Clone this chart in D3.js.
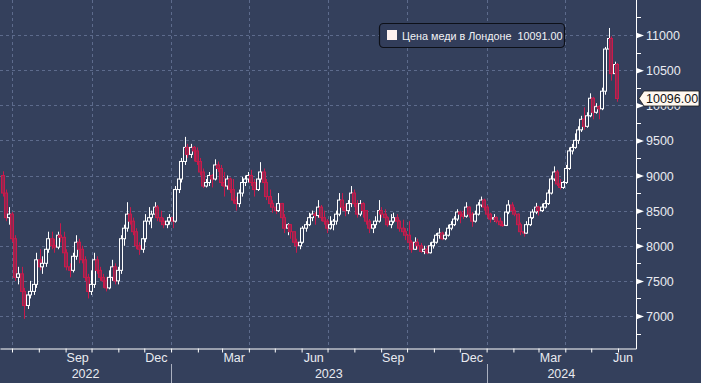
<!DOCTYPE html>
<html><head><meta charset="utf-8">
<script src="https://cdn.jsdelivr.net/npm/d3@7"></script>
<style>html,body{margin:0;padding:0;background:#34405c;overflow:hidden}svg{display:block}text{font-family:"Liberation Sans",Arial,sans-serif}</style>
</head><body><svg id="c" width="701" height="383"></svg>
<script>
// ---- data: two candles per week (Mon-Wed session, Thu-Fri session); weeks listed by their Wednesday ----
const weeks=["2022-06-22","2022-06-29","2022-07-06","2022-07-13","2022-07-20","2022-07-27","2022-08-03","2022-08-10","2022-08-17","2022-08-24","2022-08-31","2022-09-07","2022-09-14","2022-09-21","2022-09-28","2022-10-05","2022-10-12","2022-10-19","2022-10-26","2022-11-02","2022-11-09","2022-11-16","2022-11-23","2022-11-30","2022-12-07","2022-12-14","2022-12-21","2022-12-28",
"2023-01-04","2023-01-11","2023-01-18","2023-01-25","2023-02-01","2023-02-08","2023-02-15","2023-02-22","2023-03-01","2023-03-08","2023-03-15","2023-03-22","2023-03-29","2023-04-05","2023-04-12","2023-04-19","2023-04-26","2023-05-03","2023-05-10","2023-05-17","2023-05-24","2023-05-31","2023-06-07","2023-06-14","2023-06-21","2023-06-28","2023-07-05","2023-07-12","2023-07-19","2023-07-26","2023-08-02","2023-08-09","2023-08-16","2023-08-23","2023-08-30","2023-09-06","2023-09-13","2023-09-20","2023-09-27","2023-10-04","2023-10-11","2023-10-18","2023-10-25","2023-11-01","2023-11-08","2023-11-15","2023-11-22","2023-11-29","2023-12-06","2023-12-13","2023-12-20","2023-12-27",
"2024-01-03","2024-01-10","2024-01-17","2024-01-24","2024-01-31","2024-02-07","2024-02-14","2024-02-21","2024-02-28","2024-03-06","2024-03-13","2024-03-20","2024-03-27","2024-04-03","2024-04-10","2024-04-17","2024-04-24","2024-05-01","2024-05-08","2024-05-15","2024-05-22","2024-05-29"];
const open=[9000,8750,8400,8450,8100,7550,7600,7350,7150,7300,7350,7450,7800,7700,7750,7950,8100,8000,7980,8150,
8120,7900,7700,7650,7850,8050,7950,7800,7550,7350,7450,7800,7650,7550,7500,7400,7550,7700,7500,7650,
8100,8250,8450,8350,8200,8000,7950,8100,8350,8400,8450,8550,8400,8350,8300,8350,8400,8350,8800,8950,
9200,9400,9300,9400,9350,9200,9050,8850,8900,9000,8950,9150,9100,8900,8850,8950,8800,8650,8600,8750,
8900,8950,9000,8900,8800,8950,9050,8900,8700,8600,8550,8500,8600,8400,8250,8300,8200,8050,8000,8050,
8250,8300,8400,8450,8430,8550,8400,8350,8250,8300,8350,8450,8650,8550,8500,8600,8750,8600,8450,8600,
8500,8350,8250,8300,8350,8500,8450,8400,8300,8350,8400,8350,8250,8200,8150,8050,7950,8050,8000,7920,
7950,7900,8000,8050,8150,8180,8100,8150,8250,8300,8380,8480,8450,8420,8550,8450,8350,8450,8580,8650,
8550,8450,8380,8400,8350,8300,8290,8480,8580,8500,8450,8300,8200,8180,8300,8400,8480,8550,8500,8550,
8600,8750,8950,9050,8880,8830,8900,9100,9350,9400,9500,9650,9800,9700,9850,10100,9900,9980,9950,10200,
10800,10950,10450,10580];
const high=[9060,8800,8550,8480,8150,7700,7700,7400,7350,7500,7500,7900,7950,7850,8000,8200,8200,8100,8200,8320,
8200,7950,7750,7900,8150,8100,8000,7850,7600,7650,7900,7850,7700,7600,7550,7650,7800,7750,7700,8150,
8300,8620,8550,8400,8250,8050,8150,8450,8550,8500,8620,8580,8500,8400,8400,8450,8450,8850,9000,9250,
9550,9450,9450,9420,9400,9250,9100,8950,9050,9020,9230,9200,9150,9050,9000,8970,8950,8700,8800,8980,
9000,9050,9080,8950,9000,9190,9100,8950,8800,8650,8600,8750,8610,8450,8320,8310,8200,8100,8100,8280,
8350,8470,8500,8480,8650,8580,8500,8380,8420,8380,8500,8750,8750,8600,8650,8850,8800,8650,8650,8620,
8500,8380,8350,8420,8650,8550,8520,8420,8450,8470,8450,8370,8370,8250,8350,8080,8120,8100,8040,8000,
8000,8050,8100,8180,8250,8200,8200,8300,8350,8420,8520,8500,8500,8620,8560,8480,8500,8620,8700,8670,
8580,8470,8450,8420,8400,8350,8500,8650,8620,8550,8460,8330,8250,8350,8450,8520,8610,8570,8600,8650,
8800,9000,9130,9080,8950,8920,9150,9400,9450,9600,9700,9850,9970,9900,10170,10120,10030,10000,10250,10830,
11100,10980,10620,10600];
const low=[8700,8350,8300,8050,7500,7450,7300,6960,7100,7250,7300,7400,7650,7600,7700,7900,7950,7900,7950,8050,
7850,7650,7550,7620,7800,7750,7750,7500,7250,7300,7400,7600,7500,7400,7350,7380,7500,7450,7450,7600,
8000,8200,8300,8150,7950,7870,7900,8050,8300,8250,8400,8350,8300,8250,8250,8300,8250,8330,8750,8900,
9150,9250,9250,9200,9150,9000,8820,8830,8850,8830,8930,9050,8850,8700,8800,8750,8600,8500,8550,8700,
8850,8900,8850,8700,8780,8900,8850,8650,8550,8470,8450,8480,8350,8180,8150,8100,8000,7900,7950,8030,
8200,8280,8350,8300,8400,8350,8300,8180,8230,8220,8300,8420,8500,8420,8450,8550,8550,8400,8420,8400,
8300,8180,8180,8250,8330,8400,8350,8270,8250,8320,8300,8200,8150,8080,8000,7900,7940,7950,7900,7880,
7880,7890,7960,8030,8100,8080,8080,8130,8220,8280,8350,8320,8380,8400,8400,8270,8330,8430,8550,8500,
8400,8330,8340,8320,8280,8270,8280,8450,8480,8420,8280,8150,8130,8170,8280,8380,8450,8430,8480,8530,
8580,8730,8920,8850,8800,8810,8880,9080,9300,9380,9450,9620,9650,9680,9830,9800,9880,9800,9930,10150,
10750,10350,10400,10050];
const close=[8750,8400,8450,8100,7550,7600,7350,7150,7300,7350,7450,7800,7700,7750,7950,8100,8000,7980,8150,8120,
7900,7700,7650,7850,8050,7950,7800,7550,7350,7450,7800,7650,7550,7500,7400,7550,7700,7500,7650,8100,
8250,8450,8350,8200,8000,7950,8100,8350,8400,8450,8550,8400,8350,8300,8350,8400,8350,8800,8950,9200,
9400,9300,9400,9350,9200,9050,8850,8900,9000,8950,9150,9100,8900,8850,8950,8800,8650,8600,8750,8900,
8950,9000,8900,8800,8950,9050,8900,8700,8600,8550,8500,8600,8400,8250,8300,8200,8050,8000,8050,8250,
8300,8400,8450,8430,8550,8400,8350,8250,8300,8350,8450,8650,8550,8500,8600,8750,8600,8450,8600,8500,
8350,8250,8300,8350,8500,8450,8400,8300,8350,8400,8350,8250,8200,8150,8050,7950,8050,8000,7920,7950,
7900,8000,8050,8150,8180,8100,8150,8250,8300,8380,8480,8450,8420,8550,8450,8350,8450,8580,8650,8550,
8450,8380,8400,8350,8300,8290,8480,8580,8500,8450,8300,8200,8180,8300,8400,8480,8550,8500,8550,8600,
8750,8950,9050,8880,8830,8900,9100,9350,9400,9500,9650,9800,9700,9850,10100,9900,9980,9950,10200,10800,
10950,10450,10580,10096];
const yTicks=[7000,7500,8000,8500,9000,9500,10000,10500,11000];
const monthTicks=["2022-09","2022-12","2023-03","2023-06","2023-09","2023-12","2024-03","2024-06"];
const monthNames=["Sep","Dec","Mar","Jun","Sep","Dec","Mar","Jun"];
const years=["2022","2023","2024"];
const seriesName="Цена меди в Лондоне";
const legendValue=10091.00;
const lastPrice=10096.00;

// ---- layout ----
const W=701,H=383, PR=636, PB=348;
const BG="#34405c", GRID="#5d6b8c", TXT="#e9ebf1";
const svg=d3.select("#c");
svg.append("rect").attr("width",W).attr("height",H).attr("fill",BG);

const parse=d3.utcParse("%Y-%m-%d");
const x=d3.scaleUtc().domain([new Date(Date.UTC(2022,5,17,3)),new Date(Date.UTC(2024,5,21,19))]).range([0,PR]);
const y=d3.scaleLinear().domain([7000,11000]).range([316,35]);
const sessions=[];
weeks.forEach(w=>{const d=parse(w);sessions.push(d3.utcDay.offset(d,-1),d3.utcDay.offset(d,2));});
const data=sessions.map((d,i)=>({d,o:open[i],h:high[i],l:low[i],c:close[i]})).filter(d=>d.o!=null);

// grid
const g=svg.append("g");
g.selectAll(".hg").data(yTicks).join("line")
  .attr("x1",0).attr("x2",PR).attr("y1",d=>Math.round(y(d))+0.5).attr("y2",d=>Math.round(y(d))+0.5)
  .attr("stroke",GRID).attr("stroke-dasharray","3,3");
const quarters=d3.utcMonth.range(x.domain()[0],x.domain()[1]).filter(d=>d.getUTCMonth()%3===0);
g.selectAll(".vg").data(quarters).join("line")
  .attr("x1",d=>Math.round(x(d))+0.5).attr("x2",d=>Math.round(x(d))+0.5).attr("y1",0).attr("y2",PB)
  .attr("stroke",GRID).attr("stroke-dasharray","3,3");

// candles
svg.append("clipPath").attr("id","clip").append("rect").attr("x",0).attr("y",0).attr("width",PR).attr("height",PB);
const cg=svg.append("g").attr("clip-path","url(#clip)");
const bw=3;
const UP_S="#ffffff", DN_S="#c91a4c", DN_F="#8e2a50";
const cand=cg.selectAll(".c").data(data).join("g");
cand.append("line")
  .attr("x1",d=>Math.round(x(d.d))+0.5).attr("x2",d=>Math.round(x(d.d))+0.5)
  .attr("y1",d=>y(d.h)).attr("y2",d=>y(d.l))
  .attr("stroke",d=>d.c>=d.o?UP_S:DN_S).attr("stroke-width",1);
cand.append("rect")
  .attr("x",d=>Math.round(x(d.d))-1.5).attr("width",bw)
  .attr("y",d=>y(Math.max(d.o,d.c))).attr("height",d=>Math.max(1,Math.abs(y(d.o)-y(d.c))))
  .attr("fill",d=>d.c>=d.o?BG:DN_F).attr("stroke",d=>d.c>=d.o?UP_S:DN_S).attr("stroke-width",1);

// x axis
const xa=svg.append("g").attr("transform",`translate(0,${PB+0.5})`)
  .call(d3.axisBottom(x).tickValues(d3.utcMonth.range(x.domain()[0],x.domain()[1])).tickSize(4).tickFormat("").tickSizeOuter(0));
xa.select(".domain").attr("stroke","#fff");
xa.selectAll(".tick line").attr("stroke","#fff");
const fmtM=d3.utcParse("%Y-%m");
svg.selectAll(".ml").data(monthTicks).join("text")
  .attr("x",d=>{const c=x(d3.utcDay.offset(fmtM(d),14));return Math.min(c,PR-13);})
  .attr("y",362).attr("text-anchor","middle").attr("fill",TXT).attr("font-size",12.5).text((d,i)=>monthNames[i]);
const yStarts=years.map(yy=>d3.utcParse("%Y")(yy));
svg.selectAll(".ys").data(yStarts.slice(1)).join("line")
  .attr("x1",d=>Math.round(x(d))+0.5).attr("x2",d=>Math.round(x(d))+0.5).attr("y1",364).attr("y2",H)
  .attr("stroke","#aab0bf");
svg.selectAll(".yl").data(years).join("text")
  .attr("x",(d,i)=>{const a=Math.max(0,x(yStarts[i]));const b=i<years.length-1?x(yStarts[i+1]):PR;return (a+b)/2;})
  .attr("y",378).attr("text-anchor","middle").attr("fill",TXT).attr("font-size",12.5).text(d=>d);

// y axis
svg.append("line").attr("x1",PR+0.5).attr("x2",PR+0.5).attr("y1",0).attr("y2",PB+1).attr("stroke","#fff");
const minor=d3.range(6750,11500,250).filter(v=>v%500!==0);
svg.selectAll(".mt").data(minor).join("line")
  .attr("x1",PR).attr("x2",PR+5).attr("y1",d=>Math.round(y(d))+0.5).attr("y2",d=>Math.round(y(d))+0.5).attr("stroke","#fff");
const ya=svg.append("g").attr("transform",`translate(${PR},0)`)
  .call(d3.axisRight(y).tickValues(yTicks).tickSize(0).tickPadding(10).tickFormat(d3.format("d")));
ya.select(".domain").remove();
ya.selectAll(".tick text").attr("fill",TXT).attr("font-size",12.5).attr("font-family","Liberation Sans, Arial, sans-serif").attr("dy","0.36em");
ya.selectAll(".tick").append("path").attr("d","M0,-3L8,0L0,3Z").attr("fill","#fff");

// last price label
const ly=y(lastPrice);
svg.append("path")
  .attr("d",`M639,${ly}L644,${ly-7.5}L699,${ly-7.5}L699,${ly+7.5}L644,${ly+7.5}Z`)
  .attr("fill","#fff8f0").attr("stroke","#1a1a1a").attr("stroke-width",0.8);
svg.append("text").attr("x",646).attr("y",ly).attr("dy","0.36em").attr("fill","#111").attr("font-size",12.5).text(d3.format(".2f")(lastPrice));

// legend
const lg=svg.append("g");
lg.append("rect").attr("x",379.5).attr("y",23.5).attr("width",185).attr("height",24).attr("rx",4)
  .attr("fill","#323d5a").attr("stroke","#0d1018").attr("stroke-width",1.2);
lg.append("rect").attr("x",387).attr("y",30).attr("width",10).attr("height",10).attr("fill","#fdf1ef");
lg.append("text").attr("x",402).attr("y",39.5).attr("fill","#f2f3f6").attr("font-size",10.8)
  .style("white-space","pre").text(seriesName+"  "+d3.format(".2f")(legendValue));
</script></body></html>
